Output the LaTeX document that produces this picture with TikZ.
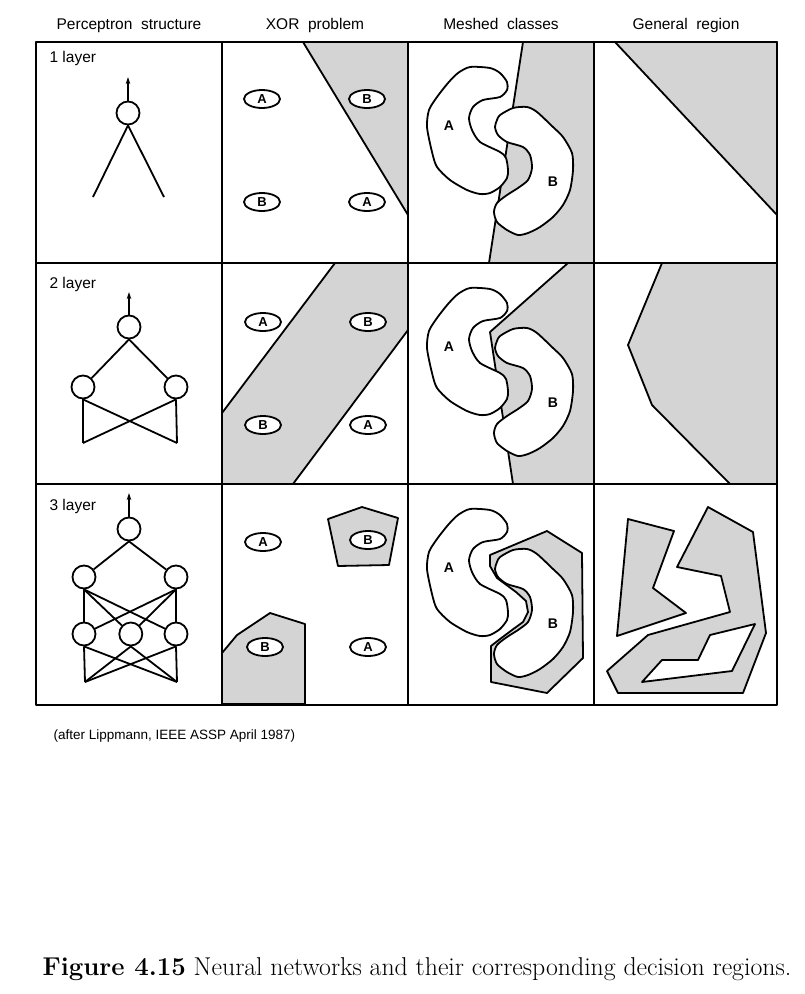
\documentclass[tikz,border=0pt]{standalone}
\usepackage{fontspec}
\newfontfamily\helv{Liberation Sans}
\usepackage{tikz}
\usetikzlibrary{shapes.geometric, positioning, arrows.meta}

\begin{document}
\begin{tikzpicture}[x=1pt,y=-1pt,>={Stealth[length=7pt,width=4.5pt]},line join=round,
    neuron/.style={circle,draw,line width=1.8pt,minimum size=23pt,inner sep=0pt},
    link/.style={line width=1.8pt},
    outarrow/.style={line width=1.4pt,->},
    cls/.style={ellipse,draw,fill=white,line width=1.8pt,minimum width=36pt,minimum height=18pt,inner sep=0pt,font=\helv\bfseries\fontsize{13}{13}\selectfont},
    region/.style={fill=black!17,draw,line width=1.8pt},
    blob/.style={fill=white,draw,line width=1.8pt},
    head/.style={anchor=base,font=\helv\fontsize{15.5}{18}\selectfont},
    tag/.style={anchor=base west,font=\helv\fontsize{15.5}{18}\selectfont},
    letter/.style={font=\helv\bfseries\fontsize{14}{14}\selectfont}]

  \useasboundingbox (0,0) rectangle (804,994);

  % decision regions (shaded parts first)
  \draw[region] (303,42) -- (408,42) -- (408,215) -- cycle;
  \draw[region] (335,263) -- (408,263) -- (408,330) -- (293,484) -- (222,484) -- (222,413) -- cycle;
  \draw[region] (328,519) -- (362,507) -- (398,518) -- (389,565) -- (338,566) -- cycle;
  \draw[region] (222,653) -- (237,635) -- (270,613) -- (305,624) -- (305,704) -- (222,704) -- cycle;

  \draw[region] (523,42) -- (594,42) -- (594,263) -- (489,263) -- cycle;
  \draw[region] (568,263) -- (594,263) -- (594,484) -- (513,484) -- (490,332) -- cycle;
  \draw[region] (490,555) -- (547,531) -- (582,553) -- (583,658) -- (547,693) -- (491,682)
        -- (491,646) -- (500,639) -- (512,630) -- (523,622) -- (528,612) -- (526,601)
        -- (516,592) -- (497,578) -- (490,566) -- cycle;

  \draw[region] (615,42) -- (777,42) -- (777,215) -- cycle;
  \draw[region] (662,263) -- (777,263) -- (777,484) -- (730,484) -- (652,405) -- (628,345) -- cycle;
  \draw[region] (628,519) -- (674,531) -- (653,588) -- (686,613) -- (617,636) -- cycle;
  \draw[region] (708,507) -- (753,532) -- (766,633) -- (743,693) -- (618,693) -- (607,671)
        -- (648,635) -- (730,612) -- (721,576) -- (677,567) -- cycle;
  \draw[blob] (755,624) -- (710,635) -- (698,660) -- (662,660) -- (642,682) -- (732,671) -- cycle;

  % meshed classes, same pair of blobs in every row
  \foreach \dy in {0,221,442}{
    \begin{scope}[shift={(0,\dy)}]
      \draw[blob] plot[smooth cycle,tension=0.45] coordinates {(470,67) (490,68) (500,73) (507,82)
        (507,90) (500,97) (483,100) (473,107) (469,118) (472,130) (480,142) (500,152) (506,158)
        (508,170) (507,178) (500,187) (490,193) (480,194) (467,190) (450,180) (437,167)
        (432,152) (427,127) (429,110) (437,97) (448,83) (458,73)};
      \draw[blob] plot[smooth cycle,tension=0.45] coordinates {(500,115) (513,108) (527,107)
        (537,112) (553,127) (563,137) (572,153) (573,170) (570,190) (563,205) (553,217)
        (540,227) (528,233) (518,235) (507,230) (497,222) (494,212) (497,203) (507,195)
        (518,188) (528,180) (532,168) (530,155) (523,147) (507,142) (498,135) (495,127) (497,120)};
      \node[letter] (ma\dy) at (449,126) {A};
      \node[letter] (mb\dy) at (553,182) {B};
    \end{scope}
  }

  % XOR problem
  \node[cls] (p1) at (262,99) {A};
  \node[cls] (p2) at (367,99) {B};
  \node[cls] (p3) at (262,202) {B};
  \node[cls] (p4) at (367,202) {A};
  \node[cls] (q1) at (263,322) {A};
  \node[cls] (q2) at (368,322) {B};
  \node[cls] (q3) at (263,425) {B};
  \node[cls] (q4) at (368,425) {A};
  \node[cls] (r1) at (263,542) {A};
  \node[cls] (r2) at (368,540) {B};
  \node[cls] (r3) at (265,647) {B};
  \node[cls] (r4) at (368,647) {A};

  % table frame
  \draw[line width=2pt] (36,42) rectangle (777,705);
  \draw[line width=1.8pt] (222,42) -- (222,705) (408,42) -- (408,705) (594,42) -- (594,705)
        (36,263) -- (777,263) (36,484) -- (777,484);

  \node[head] (h1) at (129,29) {Perceptron\ \ structure};
  \node[head] (h2) at (315,29) {XOR\ \ problem};
  \node[head] (h3) at (501,29) {Meshed\ \ classes};
  \node[head] (h4) at (686,29) {General\ \ region};

  \node[tag] (t1) at (46,62) {1\ layer};
  \node[tag] (t2) at (46,288) {2\ layer};
  \node[tag] (t3) at (46,510) {3\ layer};

  % 1 layer
  \node[neuron] (a1) at (128,113) {};
  \coordinate (a0) at (128,77);
  \coordinate (x1) at (93,197);
  \coordinate (x2) at (164,197);
  \draw[outarrow] (a1) -- (a0);
  \draw[link] (x1) -- (a1.south) -- (x2);

  % 2 layer
  \node[neuron] (b1) at (129,327) {};
  \coordinate (b0) at (129,292);
  \node[neuron] (b2) at (83,387) {};
  \node[neuron] (b3) at (176,387) {};
  \coordinate (x3) at (83,443);
  \coordinate (x4) at (177,443);
  \draw[outarrow] (b1) -- (b0);
  \path[link] (b1.south) edge (b2) edge (b3)
              (b2.south) edge (x3) edge (x4)
              (b3.south) edge (x3) edge (x4);

  % 3 layer
  \node[neuron] (c1) at (129,529) {};
  \coordinate (c0) at (129,493);
  \node[neuron] (c2) at (84,577) {};
  \node[neuron] (c3) at (176,577) {};
  \node[neuron] (c4) at (84,634) {};
  \node[neuron] (c5) [right=22pt of c4] {};
  \node[neuron] (c6) at (176,634) {};
  \coordinate (x5) at (85,682);
  \coordinate (x6) at (177,682);
  \draw[outarrow] (c1) -- (c0);
  \path[link] (c1.south) edge (c2) edge (c3)
              (c2.south) edge (c4) edge (c5) edge (c6)
              (c3.south) edge (c4) edge (c5) edge (c6)
              (c4.south) edge (x5) edge (x6)
              (c5.south) edge (x5) edge (x6)
              (c6.south) edge (x5) edge (x6);

  \node[anchor=base west,font=\helv\fontsize{13.5}{16}\selectfont] (src) at (50,739)
       {(after\ Lippmann,\ IEEE\ ASSP\ April\ 1987)};
  \node[anchor=base west] (cap) at (39,975)
       {\fontsize{25.8}{30}\selectfont\textbf{Figure 4.15} Neural networks and their corresponding decision regions.};
\end{tikzpicture}
\end{document}
